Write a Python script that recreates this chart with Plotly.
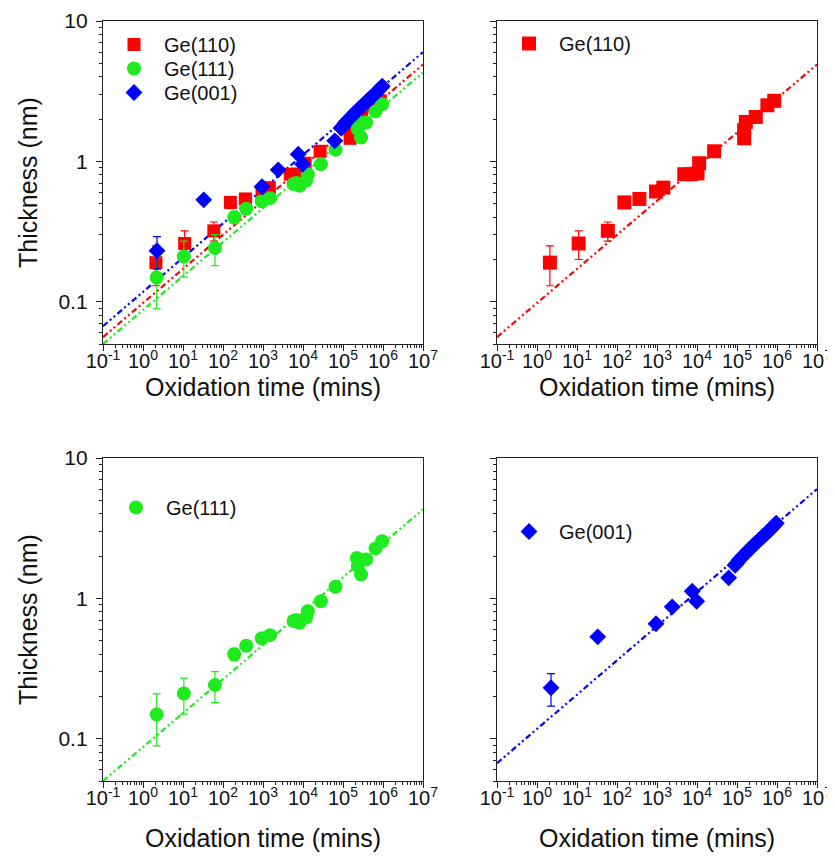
import plotly.graph_objects as go
from plotly.subplots import make_subplots

# ---------------- data ----------------
red_x = [2.1, 11, 59, 153, 363, 944, 1440, 4800, 7000, 10300, 11300, 26800,
         151000, 151000, 166000, 295000, 575000, 850000]
red_y = [0.19, 0.26, 0.32, 0.51, 0.54, 0.61, 0.65, 0.81, 0.81, 0.82, 0.97, 1.18,
         1.46, 1.67, 1.91, 2.07, 2.51, 2.70]
red_err = [0.06, 0.06, 0.05, 0.05, 0.03, 0.03, 0.03, 0.02, 0.02, 0.02, 0.02, 0.02,
           0.03, 0.03, 0.03, 0.03, 0.03, 0.03]

green_x = [2.2, 10.5, 63, 191, 380, 930, 1500, 5800, 6700, 8200, 12000, 13200,
           28000, 65000, 222000, 235000, 283000, 380000, 650000, 950000]
green_y = [0.149, 0.21, 0.241, 0.40, 0.46, 0.52, 0.547, 0.69, 0.70, 0.67, 0.73, 0.81,
           0.955, 1.21, 1.94, 1.70, 1.48, 1.89, 2.27, 2.55]
green_err = [0.06, 0.06, 0.06, 0.04, 0.04, 0.03, 0.03, 0.02, 0.02, 0.02, 0.02, 0.02,
             0.02, 0.02, 0.03, 0.03, 0.03, 0.03, 0.03, 0.03]

blue_x = [2.24, 33, 944, 2400, 7600, 9800, 62000,
          90000, 100000, 112000, 125000, 140000, 155000, 172000, 190000, 210000,
          232000, 258000, 290000, 320000, 360000, 400000, 450000, 500000, 560000,
          630000, 700000, 780000, 870000, 960000]
blue_y = [0.231, 0.532, 0.66, 0.87, 1.125, 0.955, 1.40,
          1.72, 1.79, 1.87, 1.93, 2.00, 2.05, 2.12, 2.19, 2.24,
          2.31, 2.39, 2.46, 2.52, 2.61, 2.68, 2.77, 2.84, 2.93,
          3.02, 3.11, 3.22, 3.33, 3.43]
blue_err = [0.06, 0.03, 0.03, 0.02, 0.02, 0.02, 0.02] + [0.02] * 23

fit_x = [0.1, 1e7]
fit_red = [0.056, 4.9]
fit_green = [0.05, 4.3]
fit_blue = [0.067, 6.0]

x_tickvals = [0.1, 1, 10, 100, 1e3, 1e4, 1e5, 1e6, 1e7]
x_ticktext = ["10<sup>-1</sup>", "10<sup>0</sup>", "10<sup>1</sup>", "10<sup>2</sup>",
              "10<sup>3</sup>", "10<sup>4</sup>", "10<sup>5</sup>", "10<sup>6</sup>",
              "10<sup>7</sup>"]
y_tickvals = [0.1, 1, 10]
y_ticktext = ["0.1", "1", "10"]
x_title = "Oxidation time (mins)"
y_title = "Thickness (nm)"

RED = "#FF0000"
GREEN = "#1EEB1E"
BLUE = "#0000FF"
FONT = "Arial, Liberation Sans, sans-serif"
DASH = "6px,3px,2px,3px,2px,3px"

fig = make_subplots(rows=2, cols=2)


def add_points(x, y, err, color, symbol, size, name, row, col, legend):
    fig.add_trace(go.Scatter(
        x=x, y=y, mode="markers", name=name,
        marker=dict(color=color, symbol=symbol, size=size, line=dict(width=0)),
        error_y=dict(type="data", array=err, visible=True, color=color,
                     thickness=1.2, width=4),
        legend=legend, showlegend=True), row=row, col=col)


def add_fit(y, color, row, col):
    fig.add_trace(go.Scatter(
        x=fit_x, y=y, mode="lines", showlegend=False,
        line=dict(color=color, width=2.2, dash=DASH)), row=row, col=col)


# panel 1 (combined)
add_fit(fit_red, RED, 1, 1)
add_fit(fit_green, GREEN, 1, 1)
add_fit(fit_blue, BLUE, 1, 1)
add_points(red_x, red_y, red_err, RED, "square", 13, "Ge(110)", 1, 1, "legend")
add_points(green_x, green_y, green_err, GREEN, "circle", 14, "Ge(111)", 1, 1, "legend5")
add_points(blue_x, blue_y, blue_err, BLUE, "diamond", 13, "Ge(001)", 1, 1, "legend6")
# panel 2
add_fit(fit_red, RED, 1, 2)
add_points(red_x, red_y, red_err, RED, "square", 14, "Ge(110)", 1, 2, "legend2")
# panel 3
add_fit(fit_green, GREEN, 2, 1)
add_points(green_x, green_y, green_err, GREEN, "circle", 14, "Ge(111)", 2, 1, "legend3")
# panel 4
add_fit(fit_blue, BLUE, 2, 2)
add_points(blue_x, blue_y, blue_err, BLUE, "diamond", 13, "Ge(001)", 2, 2, "legend4")

# figure pixel frame (page adds an 8px body margin, so positions are screen - 8)
W, H = 835, 860
xdom_l = [95 / W, 415 / W]
xdom_r = [489 / W, 809 / W]
ydom_t = [1 - 336 / H, 1 - 13 / H]
ydom_b = [1 - 773 / H, 1 - 450 / H]

minor_x = [m * 10 ** e for e in range(-1, 7) for m in range(2, 10)]
minor_y = [m * 10 ** e for e in range(-2, 1) for m in range(2, 10)]

common_x = dict(type="log", range=[-1, 7], showline=True, linecolor="#222",
                linewidth=1.3, mirror=True, ticks="outside", ticklen=6,
                tickwidth=1.2, tickcolor="#222", tickvals=x_tickvals,
                ticktext=x_ticktext, showgrid=False, zeroline=False,
                automargin=False, ticklabelstandoff=-7,
                tickfont=dict(family=FONT, size=20, color="#111"),
                minor=dict(tickvals=minor_x, ticks="outside", ticklen=3,
                           tickcolor="#222", tickwidth=1, showgrid=False))
common_y = dict(type="log", range=[-1.30103, 1], showline=True, linecolor="#222",
                linewidth=1.3, mirror=True, ticks="outside", ticklen=6,
                tickwidth=1.2, tickcolor="#222", tickvals=y_tickvals,
                ticktext=y_ticktext, showgrid=False, zeroline=False,
                automargin=False, ticklabelstandoff=4,
                tickfont=dict(family=FONT, size=21, color="#111"),
                minor=dict(tickvals=minor_y, ticks="outside", ticklen=3,
                           tickcolor="#222", tickwidth=1, showgrid=False))

fig.update_layout(
    xaxis=dict(common_x, domain=xdom_l, anchor="y"),
    xaxis2=dict(common_x, domain=xdom_r, anchor="y2"),
    xaxis3=dict(common_x, domain=xdom_l, anchor="y3"),
    xaxis4=dict(common_x, domain=xdom_r, anchor="y4"),
    yaxis=dict(common_y, domain=ydom_t, anchor="x"),
    yaxis2=dict(common_y, domain=ydom_t, anchor="x2", showticklabels=False),
    yaxis3=dict(common_y, domain=ydom_b, anchor="x3"),
    yaxis4=dict(common_y, domain=ydom_b, anchor="x4", showticklabels=False),
)

tfont = dict(family=FONT, size=25, color="#111")
annos = []
for xc, yc in [(255, 379), (649, 379), (255, 830), (649, 830)]:
    annos.append(dict(text=x_title, x=xc / W, y=1 - yc / H, xref="paper", yref="paper",
                      xanchor="center", yanchor="middle", showarrow=False, font=tfont))
for yc in [175, 612]:
    annos.append(dict(text=y_title, x=20 / W, y=1 - yc / H, xref="paper", yref="paper",
                      xanchor="center", yanchor="middle", showarrow=False,
                      textangle=-90, font=tfont))
fig.update_layout(annotations=annos)

leg_common = dict(font=dict(family=FONT, size=20, color="#111"),
                  bgcolor="rgba(0,0,0,0)", borderwidth=0, itemwidth=50,
                  xanchor="left", yanchor="top", tracegroupgap=0)
# legend anchors: marker centre x minus 31, row centre y minus 19 (figure px)
fig.update_layout(
    legend=dict(leg_common, x=(127 - 31) / W, y=1 - (36 - 19) / H),
    legend5=dict(leg_common, x=(127 - 31) / W, y=1 - (60 - 19) / H),
    legend6=dict(leg_common, x=(127 - 31) / W, y=1 - (84 - 19) / H),
    legend2=dict(leg_common, x=(522 - 31) / W, y=1 - (35 - 19) / H),
    legend3=dict(leg_common, x=(129 - 31) / W, y=1 - (499 - 19) / H),
    legend4=dict(leg_common, x=(522 - 31) / W, y=1 - (523 - 19) / H),
    width=W, height=H, margin=dict(l=0, r=0, t=0, b=0, autoexpand=False),
    plot_bgcolor="white", paper_bgcolor="white",
)

fig.write_html("out.html")
